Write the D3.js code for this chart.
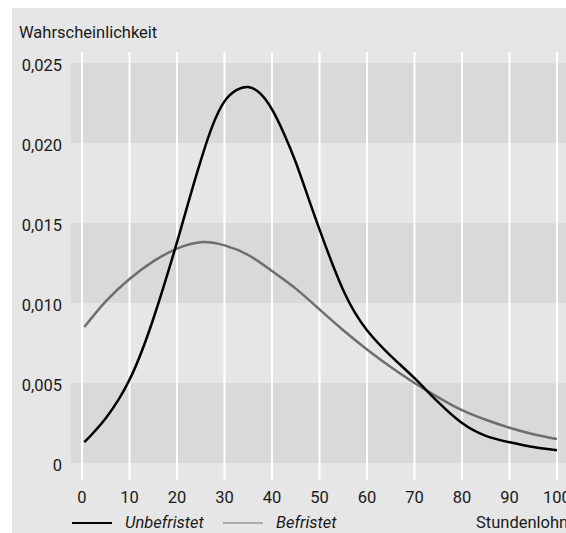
<!DOCTYPE html>
<html>
<head>
<meta charset="utf-8">
<script src="https://cdn.jsdelivr.net/npm/d3@7"></script>
<style>
  body { margin: 0; background: #fff; }
  svg text { font-family: Roboto, "Liberation Sans", sans-serif; fill: #1a1a1a; }
</style>
</head>
<body>
<svg id="chart" width="566" height="533"></svg>
<script>
// Stundenlohn (x) und Dichte je Vertragsart
const lohnUnbefristet = [0.5, 5, 10, 15, 20, 22.5, 25, 27.5, 30, 32.5, 35, 37.5, 40, 42.5, 45, 47.5, 50,
                         55, 60, 65, 70, 75, 80, 85, 90, 95, 100];
const unbefristet = [0.0013, 0.0028, 0.0052, 0.0090, 0.0138, 0.0164, 0.0189, 0.0211, 0.0226, 0.0233, 0.0235,
                     0.0231, 0.0221, 0.0206, 0.0188, 0.0167, 0.0146,
                     0.0108, 0.0083, 0.0067, 0.0053, 0.0038, 0.0025, 0.0017, 0.0013, 0.0010, 0.0008];

const lohnBefristet = [0.5, 5, 10, 15, 20, 25, 30, 35, 40, 45, 50, 55, 60, 65, 70, 75, 80, 85, 90, 95, 100];
const befristet = [0.0085, 0.0101, 0.0115, 0.0126, 0.0134, 0.0138, 0.0136, 0.0130, 0.0120, 0.0109, 0.0096,
                   0.0083, 0.0071, 0.0060, 0.0050, 0.0041, 0.0033, 0.0027, 0.0022, 0.0018, 0.0015];

const xTicks = [0, 10, 20, 30, 40, 50, 60, 70, 80, 90, 100];
const yTicks = [0, 0.005, 0.010, 0.015, 0.020, 0.025];
const yLabels = ["0", "0,005", "0,010", "0,015", "0,020", "0,025"];
const bands = [[0, 0.005], [0.010, 0.015], [0.020, 0.025]];

const svg = d3.select("#chart");

const x = d3.scaleLinear().domain([0, 100]).range([82, 557]);
const y = d3.scaleLinear().domain([0, 0.025]).range([463, 63]);

// Hintergrund
svg.append("rect")
    .attr("x", 12).attr("y", 8)
    .attr("width", 566 - 12).attr("height", 533 - 8)
    .attr("fill", "#e6e6e6");

svg.selectAll(".band")
    .data(bands)
    .enter().append("rect")
    .attr("class", "band")
    .attr("x", 71)
    .attr("width", 566 - 71)
    .attr("y", d => y(d[1]))
    .attr("height", d => y(d[0]) - y(d[1]))
    .attr("fill", "#d9d9d9");

// vertikale Gitterlinien
svg.selectAll(".grid")
    .data(xTicks)
    .enter().append("line")
    .attr("class", "grid")
    .attr("x1", d => x(d)).attr("x2", d => x(d))
    .attr("y1", 52).attr("y2", 480)
    .attr("stroke", "#fff")
    .attr("stroke-width", 2);

// Achsenbeschriftung
svg.selectAll(".xlabel")
    .data(xTicks)
    .enter().append("text")
    .attr("class", "xlabel")
    .attr("x", d => x(d))
    .attr("y", 503)
    .attr("text-anchor", "middle")
    .attr("font-size", 16.5)
    .text(d => d);

svg.selectAll(".ylabel")
    .data(yTicks)
    .enter().append("text")
    .attr("class", "ylabel")
    .attr("x", 62)
    .attr("y", d => y(d) + 8)
    .attr("text-anchor", "end")
    .attr("font-size", 16.5)
    .text((d, i) => yLabels[i]);

svg.append("text")
    .attr("x", 19).attr("y", 38)
    .attr("font-size", 16.5)
    .text("Wahrscheinlichkeit");

svg.append("text")
    .attr("x", 476).attr("y", 528)
    .attr("font-size", 16.5)
    .text("Stundenlohn");

// Kurven
const line = d3.line()
    .x(d => x(d[0]))
    .y(d => y(d[1]))
    .curve(d3.curveNatural);

svg.append("path")
    .datum(d3.zip(lohnBefristet, befristet))
    .attr("fill", "none")
    .attr("stroke", "#6e6e6e")
    .attr("stroke-width", 2.5)
    .attr("d", line);

svg.append("path")
    .datum(d3.zip(lohnUnbefristet, unbefristet))
    .attr("fill", "none")
    .attr("stroke", "#000")
    .attr("stroke-width", 2.5)
    .attr("d", line);

// Legende
const legend = [
    { name: "Unbefristet", color: "#000", x: 72 },
    { name: "Befristet", color: "#ababab", x: 223 }
];
const lg = svg.selectAll(".legend")
    .data(legend)
    .enter().append("g")
    .attr("class", "legend")
    .attr("transform", d => `translate(${d.x},523)`);
lg.append("line")
    .attr("x1", 0).attr("x2", 40)
    .attr("stroke", d => d.color)
    .attr("stroke-width", 2);
lg.append("text")
    .attr("x", 53).attr("y", 5)
    .attr("font-size", 16.5)
    .attr("font-style", "italic")
    .text(d => d.name);
</script>
</body>
</html>
